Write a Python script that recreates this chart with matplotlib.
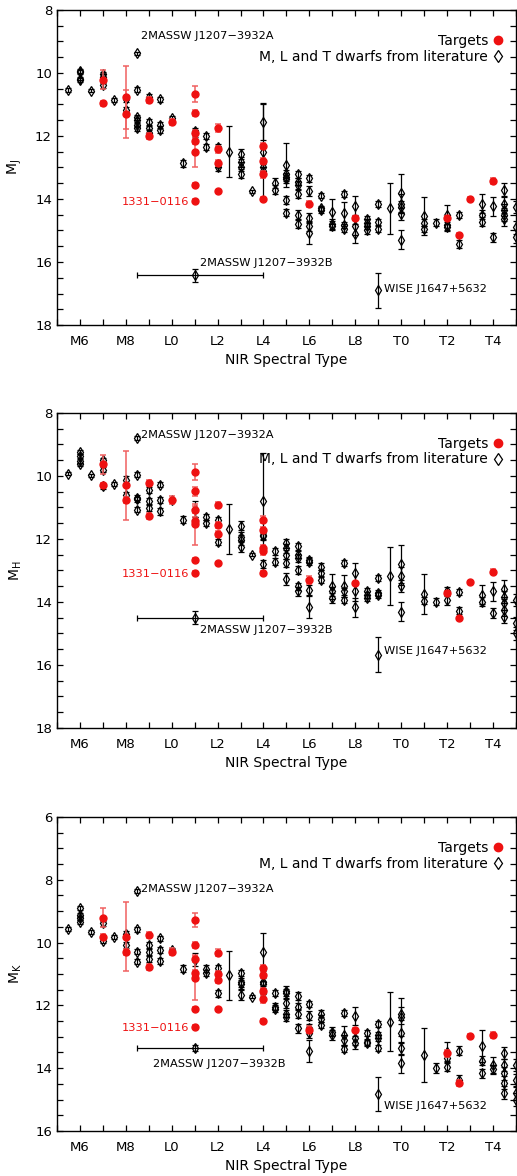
import matplotlib
matplotlib.use("Agg")
import matplotlib.pyplot as plt
from matplotlib.ticker import MultipleLocator, FixedLocator
from matplotlib.lines import Line2D
import numpy as np

# numeric spectral type: M6=6, L0=10, T0=20
tick_pos = [6, 8, 10, 12, 14, 16, 18, 20, 22, 24]
tick_lab = ["M6", "M8", "L0", "L2", "L4", "L6", "L8", "T0", "T2", "T4"]

# ---------------- J band ----------------
j_lit_spt = [5.5, 6, 6, 6, 6, 6.5, 7, 7, 7, 7.5, 8, 8,
             8.5, 8.5, 8.5, 8.5, 8.5, 8.5, 9, 9, 9, 9, 9.5, 9.5, 9.5, 10, 10.5,
             11, 11, 11.5, 11.5, 12, 12, 12, 12.5, 13, 13, 13, 13, 13.5,
             14, 14, 14, 14, 14.5, 14.5, 15, 15, 15, 15, 15, 15,
             15.5, 15.5, 15.5, 15.5, 15.5, 15.5, 16, 16, 16, 16, 16,
             16.5, 16.5, 16.5, 17, 17, 17, 17.5, 17.5, 17.5, 17.5, 18, 18, 18,
             18.5, 18.5, 18.5, 18.5, 19, 19, 19, 19, 19.5, 20, 20, 20, 20, 20,
             21, 21, 21, 21.5, 22, 22, 22, 22.5, 22.5, 23.5, 23.5, 23.5, 24, 24,
             24.5, 24.5, 24.5, 24.5, 24.5, 25, 25, 25]
j_lit_mag = [10.55, 9.93, 9.98, 10.18, 10.22, 10.56, 10.05, 10.13, 10.39, 10.86, 10.83, 11.18,
             9.38, 10.53, 11.40, 11.50, 11.65, 11.75, 10.75, 11.57, 11.76, 11.90, 10.83, 11.65, 11.80, 11.43, 12.87,
             11.85, 11.92, 12.00, 12.34, 12.35, 12.90, 13.00, 12.50, 12.58, 12.83, 12.97, 13.20, 13.76,
             11.55, 12.50, 13.00, 13.10, 13.50, 13.70, 12.92, 13.20, 13.30, 13.36, 14.04, 14.43,
             13.22, 13.45, 13.55, 13.85, 14.50, 14.80, 13.35, 13.74, 14.60, 14.86, 15.08,
             13.90, 14.30, 14.35, 14.40, 14.80, 14.85, 13.85, 14.45, 14.82, 14.95, 14.22, 14.85, 15.10,
             14.65, 14.75, 14.85, 15.00, 14.15, 14.72, 14.96, 16.90, 14.30, 13.80, 14.15, 14.25, 14.48, 15.30,
             14.55, 14.75, 14.95, 14.75, 14.50, 14.82, 14.88, 14.50, 15.43, 14.15, 14.50, 14.72, 14.23, 15.22,
             13.70, 14.15, 14.35, 14.50, 14.65, 14.25, 14.90, 15.20]
j_lit_err = [0.06, 0.06, 0.06, 0.06, 0.06, 0.06, 0.08, 0.08, 0.08, 0.06, 0.10, 0.10,
             0.05, 0.08, 0.08, 0.08, 0.08, 0.08, 0.08, 0.10, 0.10, 0.10, 0.08, 0.10, 0.12, 0.06, 0.10,
             0.10, 0.10, 0.10, 0.10, 0.10, 0.10, 0.10, 0.80, 0.15, 0.15, 0.15, 0.15, 0.05,
             0.58, 1.50, 0.12, 0.12, 0.15, 0.15, 0.70, 0.12, 0.12, 0.12, 0.12, 0.10,
             0.12, 0.12, 0.12, 0.12, 0.15, 0.12, 0.10, 0.15, 0.15, 0.15, 0.35,
             0.08, 0.08, 0.08, 0.40, 0.15, 0.15, 0.10, 0.35, 0.10, 0.10, 0.30, 0.30, 0.30,
             0.10, 0.10, 0.10, 0.10, 0.10, 0.10, 0.10, 0.55, 0.80, 0.60, 0.30, 0.20, 0.20, 0.30,
             0.60, 0.10, 0.10, 0.10, 0.30, 0.15, 0.15, 0.10, 0.12, 0.30, 0.15, 0.15, 0.30, 0.15,
             0.20, 0.20, 0.20, 0.20, 0.20, 0.20, 0.20, 0.20]

j_tgt_spt = [7, 7, 8, 8, 9, 9, 10, 11, 11, 11, 11, 11, 11, 11,
             12, 12, 12, 12, 14, 14, 14, 14, 16, 18, 22, 22.5, 23, 24]
j_tgt_mag = [10.22, 10.97, 10.77, 11.30, 10.86, 12.00, 11.55, 10.68, 11.28, 11.90, 12.17, 12.50, 13.55, 14.05,
             11.75, 12.43, 12.85, 13.75, 12.33, 12.80, 13.22, 14.00, 14.17, 14.60, 14.60, 15.13, 14.00, 13.42]
j_tgt_err = [0.30, 0.08, 1.00, 0.77, 0.10, 0.10, 0.10, 0.25, 0.10, 0.10, 0.10, 0.50, 0.05, 0.05,
             0.12, 0.10, 0.10, 0.05, 0.10, 0.10, 0.10, 0.05, 0.10, 0.05, 0.05, 0.05, 0.05, 0.10]

# ---------------- H band ----------------
h_lit_spt = [5.5, 6, 6, 6, 6, 6.5, 7, 7, 7, 7.5, 8, 8,
             8.5, 8.5, 8.5, 8.5, 8.5, 9, 9, 9, 9.5, 9.5, 9.5, 10, 10.5,
             11, 11, 11.5, 11.5, 12, 12, 12.5, 13, 13, 13, 13, 13.5,
             14, 14, 14, 14, 14.5, 14.5, 15, 15, 15, 15, 15,
             15.5, 15.5, 15.5, 15.5, 15.5, 15.5, 16, 16, 16, 16,
             16.5, 16.5, 16.5, 17, 17, 17, 17.5, 17.5, 17.5, 17.5, 18, 18, 18,
             18.5, 18.5, 18.5, 19, 19, 19, 19, 19.5, 20, 20, 20, 20,
             21, 21, 21.5, 22, 22, 22.5, 22.5, 23.5, 23.5, 24, 24,
             24.5, 24.5, 24.5, 24.5, 24.5, 25, 25, 25]
h_lit_mag = [9.94, 9.24, 9.38, 9.52, 9.64, 9.99, 9.50, 9.80, 10.33, 10.25, 10.12, 10.60,
             8.80, 9.96, 10.70, 10.75, 11.07, 10.44, 10.79, 11.02, 10.28, 10.76, 11.13, 10.76, 11.39,
             11.05, 11.40, 11.31, 11.50, 11.41, 12.11, 11.69, 11.58, 11.93, 12.03, 12.26, 12.50,
             10.79, 11.89, 11.92, 12.80, 12.40, 12.72, 12.14, 12.30, 12.50, 12.77, 13.27,
             12.24, 12.50, 12.60, 12.98, 13.51, 13.67, 12.67, 12.72, 13.62, 14.15,
             12.88, 13.09, 13.30, 13.51, 13.67, 13.88, 12.77, 13.51, 13.67, 13.94, 13.07, 13.67, 14.17,
             13.67, 13.78, 13.88, 13.25, 13.72, 13.78, 15.67, 13.18, 12.80, 13.18, 13.50, 14.31,
             13.75, 13.96, 13.99, 13.67, 13.94, 13.69, 14.28, 13.78, 13.99, 13.67, 14.36,
             13.60, 13.85, 14.05, 14.25, 14.47, 13.94, 14.68, 15.00]
h_lit_err = [0.05, 0.06, 0.06, 0.06, 0.06, 0.06, 0.08, 0.08, 0.08, 0.06, 0.10, 0.10,
             0.05, 0.08, 0.08, 0.08, 0.08, 0.10, 0.10, 0.10, 0.08, 0.10, 0.12, 0.06, 0.10,
             0.25, 0.10, 0.10, 0.10, 0.10, 0.10, 0.78, 0.15, 0.15, 0.15, 0.15, 0.05,
             1.50, 0.12, 0.12, 0.12, 0.10, 0.10, 0.15, 0.15, 0.15, 0.12, 0.20,
             0.12, 0.12, 0.12, 0.12, 0.12, 0.15, 0.10, 0.10, 0.15, 0.35,
             0.10, 0.10, 0.10, 0.40, 0.15, 0.15, 0.10, 0.35, 0.10, 0.10, 0.30, 0.30, 0.30,
             0.10, 0.10, 0.10, 0.10, 0.10, 0.10, 0.55, 0.93, 0.60, 0.30, 0.20, 0.30,
             0.65, 0.10, 0.10, 0.15, 0.15, 0.10, 0.12, 0.30, 0.15, 0.30, 0.15,
             0.30, 0.20, 0.20, 0.20, 0.20, 0.20, 0.20, 0.20]

h_tgt_spt = [7, 7, 8, 8, 9, 9, 10, 11, 11, 11, 11, 11, 11, 11,
             12, 12, 12, 12, 14, 14, 14, 14, 14, 16, 18, 22, 22.5, 23, 24]
h_tgt_mag = [9.64, 10.30, 10.30, 10.76, 10.22, 11.27, 10.76, 9.88, 10.49, 11.07, 11.42, 11.53, 12.67, 13.07,
             10.92, 11.55, 11.84, 12.77, 11.39, 11.71, 12.29, 12.40, 13.07, 13.30, 13.41, 13.72, 14.52, 13.38, 13.04]
h_tgt_err = [0.30, 0.08, 1.10, 0.10, 0.10, 0.10, 0.12, 0.25, 0.15, 0.10, 0.10, 0.65, 0.05, 0.05,
             0.10, 0.10, 0.10, 0.05, 0.10, 0.10, 0.10, 0.10, 0.05, 0.12, 0.05, 0.05, 0.05, 0.05, 0.08]

# ---------------- K band ----------------
k_lit_spt = [5.5, 6, 6, 6, 6, 6.5, 7, 7, 7.5, 8, 8,
             8.5, 8.5, 8.5, 8.5, 9, 9, 9, 9.5, 9.5, 9.5, 10, 10.5,
             11, 11.5, 11.5, 12, 12, 12.5, 13, 13, 13, 13, 13.5,
             14, 14, 14, 14, 14.5, 14.5, 14.5, 15, 15, 15, 15, 15,
             15.5, 15.5, 15.5, 15.5, 16, 16, 16, 16, 16,
             16.5, 16.5, 16.5, 17, 17, 17.5, 17.5, 17.5, 17.5, 18, 18, 18,
             18.5, 18.5, 18.5, 19, 19, 19, 19, 19, 19.5, 20, 20, 20, 20, 20,
             21, 21.5, 22, 22, 22, 22.5, 22.5, 23.5, 23.5, 23.5, 24, 24,
             24.5, 24.5, 24.5, 24.5, 24.5, 25, 25, 25, 25]
k_lit_mag = [9.57, 8.90, 9.13, 9.21, 9.34, 9.66, 9.39, 9.94, 9.82, 9.74, 10.08,
             8.36, 9.58, 10.29, 10.61, 10.08, 10.29, 10.53, 9.87, 10.24, 10.58, 10.24, 10.83,
             10.54, 10.83, 10.96, 10.80, 11.62, 11.04, 10.96, 11.27, 11.33, 11.67, 11.73,
             10.30, 11.25, 11.33, 11.62, 11.60, 12.04, 12.10, 11.54, 11.62, 11.94, 12.26, 12.38,
             11.70, 12.04, 12.26, 12.73, 11.96, 12.33, 12.73, 12.89, 13.44,
             12.26, 12.42, 12.63, 12.84, 12.95, 12.24, 12.95, 13.10, 13.40, 12.34, 13.05, 13.19,
             12.87, 13.16, 13.21, 12.60, 12.95, 13.05, 13.35, 14.82, 12.52, 12.26, 12.38, 12.89, 13.37, 13.85,
             13.58, 14.00, 13.48, 13.69, 13.95, 13.44, 14.38, 13.29, 13.76, 14.17, 13.90, 14.04,
             13.52, 13.90, 14.17, 14.46, 14.78, 13.90, 14.38, 14.80, 15.00]
k_lit_err = [0.05, 0.06, 0.06, 0.06, 0.06, 0.06, 0.08, 0.08, 0.06, 0.10, 0.10,
             0.05, 0.08, 0.08, 0.08, 0.10, 0.10, 0.10, 0.08, 0.10, 0.10, 0.06, 0.10,
             0.20, 0.10, 0.10, 0.10, 0.10, 0.78, 0.10, 0.15, 0.15, 0.15, 0.05,
             0.60, 0.12, 0.12, 0.12, 0.10, 0.10, 0.10, 0.15, 0.15, 0.15, 0.12, 0.12,
             0.12, 0.12, 0.15, 0.15, 0.10, 0.15, 0.15, 0.15, 0.35,
             0.10, 0.10, 0.10, 0.15, 0.15, 0.10, 0.30, 0.15, 0.10, 0.30, 0.20, 0.20,
             0.10, 0.10, 0.10, 0.10, 0.10, 0.10, 0.10, 0.55, 0.93, 0.20, 0.60, 0.30, 0.20, 0.30,
             0.85, 0.15, 0.30, 0.15, 0.15, 0.15, 0.15, 0.50, 0.15, 0.15, 0.25, 0.15,
             0.20, 0.20, 0.20, 0.20, 0.20, 0.20, 0.20, 0.20, 0.20]

k_tgt_spt = [7, 7, 8, 8, 9, 9, 10, 11, 11, 11, 11, 11, 11, 11,
             12, 12, 12, 12, 14, 14, 14, 14, 14, 16, 18, 22, 22.5, 23, 24]
k_tgt_mag = [9.21, 9.82, 9.82, 10.29, 9.77, 10.77, 10.29, 9.27, 10.08, 10.51, 10.96, 11.14, 12.10, 12.68,
             10.32, 11.00, 11.20, 12.13, 10.80, 11.04, 11.55, 11.81, 12.49, 12.77, 12.77, 13.53, 14.48, 12.97, 12.95]
k_tgt_err = [0.30, 0.08, 1.10, 0.10, 0.10, 0.10, 0.12, 0.22, 0.10, 0.10, 0.10, 0.70, 0.05, 0.05,
             0.12, 0.10, 0.10, 0.05, 0.10, 0.10, 0.10, 0.10, 0.05, 0.10, 0.05, 0.10, 0.10, 0.05, 0.10]

# 2MASSW J1207-3932B (spt 11, range L1.5 .. L4 -> 8.5..14)
b_spt = 11
b_spt_lo = 2.5
b_spt_hi = 3.0
b_mag = [16.42, 14.50, 13.35]
b_err = [0.20, 0.20, 0.10]

panels = [
    dict(lit=(j_lit_spt, j_lit_mag, j_lit_err), tgt=(j_tgt_spt, j_tgt_mag, j_tgt_err),
         ylab=r"M$_\mathrm{J}$", ylim=(18, 8), rect=[0.110, 0.7236, 0.888, 0.268],
         a_txt=(8.68, 9.0, "bottom"), b_txt=(11.22, 16.18, "bottom", "left"),
         w_txt=(19.25, 16.85), n_txt=(10.78, 14.1)),
    dict(lit=(h_lit_spt, h_lit_mag, h_lit_err), tgt=(h_tgt_spt, h_tgt_mag, h_tgt_err),
         ylab=r"M$_\mathrm{H}$", ylim=(18, 8), rect=[0.110, 0.381, 0.888, 0.268],
         a_txt=(8.66, 8.72, "center"), b_txt=(11.22, 14.9, "center", "left"),
         w_txt=(19.25, 15.55), n_txt=(10.78, 13.12)),
    dict(lit=(k_lit_spt, k_lit_mag, k_lit_err), tgt=(k_tgt_spt, k_tgt_mag, k_tgt_err),
         ylab=r"M$_\mathrm{K}$", ylim=(16, 6), rect=[0.110, 0.0383, 0.888, 0.267],
         a_txt=(8.66, 8.28, "center"), b_txt=(9.2, 13.88, "center", "left"),
         w_txt=(19.25, 15.2), n_txt=(10.78, 12.73)),
]

plt.rcParams["font.family"] = "DejaVu Sans"
fig = plt.figure(figsize=(5.17, 11.76), dpi=100)

red = "#ee1111"
red_bar = "#f06060"

for i, p in enumerate(panels):
    ax = fig.add_axes(p["rect"])
    ls, lm, le = p["lit"]
    ts, tm, te = p["tgt"]

    ax.errorbar(ls, lm, yerr=le, fmt="d", ms=5, mfc="none", mec="k", mew=0.9,
                ecolor="k", elinewidth=0.9, capsize=2, capthick=0.9, zorder=3)
    ax.errorbar(ts, tm, yerr=te, fmt="o", ms=5, color=red, mec=red,
                ecolor=red_bar, elinewidth=1.1, capsize=2.2, capthick=1.1, zorder=4)
    ax.errorbar([b_spt], [b_mag[i]], xerr=[[b_spt_lo], [b_spt_hi]], yerr=[b_err[i]],
                fmt="d", ms=5, mfc="none", mec="k", mew=0.9, ecolor="k",
                elinewidth=0.9, capsize=2, capthick=0.9, zorder=3)

    ax.set_xlim(5, 25)
    ax.set_ylim(*p["ylim"])
    ax.xaxis.set_major_locator(FixedLocator(tick_pos))
    ax.set_xticklabels(tick_lab)
    ax.xaxis.set_minor_locator(MultipleLocator(1))
    ax.yaxis.set_major_locator(MultipleLocator(2))
    ax.yaxis.set_minor_locator(MultipleLocator(0.5))
    ax.tick_params(which="both", direction="in", top=True, right=True,
                   length=4.5, width=0.9, labelsize=9.5)
    ax.tick_params(axis="x", pad=7)
    for s in ax.spines.values():
        s.set_linewidth(1.0)
    ax.set_xlabel("NIR Spectral Type", fontsize=10, labelpad=4)
    ax.set_ylabel(p["ylab"], fontsize=10)
    ax.yaxis.set_label_coords(-0.072, 0.5)

    ax.text(p["a_txt"][0], p["a_txt"][1], "2MASSW J1207\u22123932A", fontsize=8.2,
            va=p["a_txt"][2], ha="left")
    ax.text(p["b_txt"][0], p["b_txt"][1], "2MASSW J1207\u22123932B", fontsize=8.2,
            va=p["b_txt"][2], ha=p["b_txt"][3])
    ax.text(p["w_txt"][0], p["w_txt"][1], "WISE J1647+5632", fontsize=8.2,
            va="center", ha="left")
    ax.text(p["n_txt"][0], p["n_txt"][1], "1331\u22120116", fontsize=8.2, color=red,
            va="center", ha="right")

    handles = [Line2D([], [], ls="none", marker="o", ms=6, color=red),
               Line2D([], [], ls="none", marker="d", ms=6, mfc="none", mec="k", mew=0.9)]
    ax.legend(handles, ["Targets", "M, L and T dwarfs from literature"],
              loc="upper right", bbox_to_anchor=(0.985, 0.945), markerfirst=False,
              frameon=False, fontsize=10, handlelength=0.6, handletextpad=0.4,
              labelspacing=0.1, borderpad=0)

fig.savefig("out.png", dpi=100)
